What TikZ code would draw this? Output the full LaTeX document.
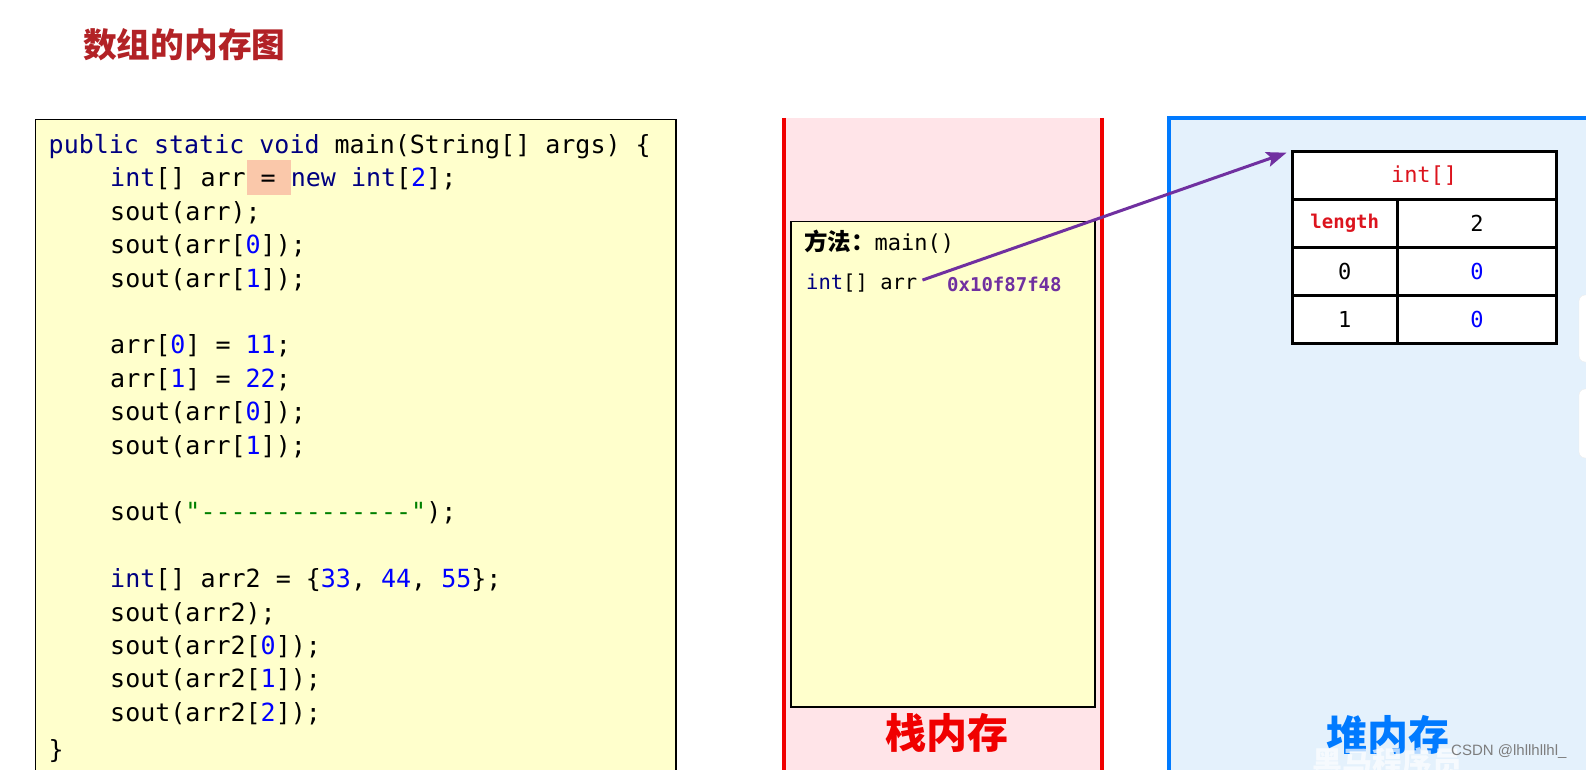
\documentclass[tikz,border=0pt]{standalone}
\usepackage{fontspec}
\setmonofont{DejaVu Sans Mono}
\newfontfamily\cjk{Noto Sans CJK SC}
\newfontfamily\csdnfont{Liberation Sans}
\usetikzlibrary{arrows.meta,calc}
\definecolor{titlered}{RGB}{178,34,38}
\definecolor{kwnavy}{RGB}{0,0,128}
\definecolor{numblue}{RGB}{0,0,255}
\definecolor{strgreen}{RGB}{0,128,0}
\definecolor{codebg}{RGB}{255,255,204}
\definecolor{hlcol}{RGB}{250,200,170}
\definecolor{stackpink}{RGB}{255,228,232}
\definecolor{stackred}{RGB}{240,0,0}
\definecolor{ptrpurple}{RGB}{112,48,160}
\definecolor{heapblue}{RGB}{0,122,255}
\definecolor{heapbg}{RGB}{228,241,252}
\definecolor{cellred}{RGB}{220,20,30}
\definecolor{csdngray}{RGB}{125,125,125}
\newcommand{\ckw}[1]{\textcolor{kwnavy}{#1}}
\newcommand{\cnum}[1]{\textcolor{numblue}{#1}}
\newcommand{\cstrg}[1]{\textcolor{strgreen}{#1}}
\newcommand{\mydashes}{-{}-{}-{}-{}-{}-{}-{}-{}-{}-{}-{}-{}-{}-}
\tikzset{
  codeline/.style={anchor=base west, inner sep=0pt, font=\ttfamily\fontsize{25}{25}\selectfont},
  codebox/.style={draw=black, line width=1.8pt, fill=codebg},
  methodbox/.style={draw=black, line width=1.5pt, fill=codebg, anchor=north west, inner sep=0pt},
  cell/.style={draw=black, line width=3pt, fill=white, anchor=north west, inner sep=0pt,
    font=\ttfamily\fontsize{22}{22}\selectfont},
  ptr/.style={draw=ptrpurple, line width=3pt, -{Stealth[length=20pt,width=15pt,inset=4pt]}},
  memlabel/.style={inner sep=0pt, font=\cjk\bfseries\fontsize{41}{41}\selectfont},
}
\begin{document}
\begin{tikzpicture}[x=1pt,y=-1pt]
\useasboundingbox (0,0) rectangle (1586,770);
\clip (0,0) rectangle (1586,770);
\fill[white] (0,0) rectangle (1586,770);

% title
\node[anchor=west, inner sep=0pt, text=titlered, font=\cjk\bfseries\fontsize{33.7}{34}\selectfont] (title) at (83,45) {数组的内存图};

% code panel
\draw[codebox] (35.5,119.5) rectangle (676,800);
\fill[hlcol] (247,160) rectangle (291,195);
\node[codeline] (c0) at (48.5,153.5) {\ckw{public static void} main(String[] args) \{};
\node[codeline] (c1) at (110,186.9) {\ckw{int}[] arr = \ckw{new} \ckw{int}[\cnum{2}];};
\node[codeline] (c2) at (110,220.3) {sout(arr);};
\node[codeline] (c3) at (110,253.7) {sout(arr[\cnum{0}]);};
\node[codeline] (c4) at (110,287.1) {sout(arr[\cnum{1}]);};
\node[codeline] (c6) at (110,353.9) {arr[\cnum{0}] = \cnum{11};};
\node[codeline] (c7) at (110,387.3) {arr[\cnum{1}] = \cnum{22};};
\node[codeline] (c8) at (110,420.7) {sout(arr[\cnum{0}]);};
\node[codeline] (c9) at (110,454.1) {sout(arr[\cnum{1}]);};
\node[codeline] (c11) at (110,520.9) {sout(\cstrg{"\mydashes"});};
\node[codeline] (c13) at (110,587.7) {\ckw{int}[] arr2 = \{\cnum{33}, \cnum{44}, \cnum{55}\};};
\node[codeline] (c14) at (110,621.1) {sout(arr2);};
\node[codeline] (c15) at (110,654.5) {sout(arr2[\cnum{0}]);};
\node[codeline] (c16) at (110,687.9) {sout(arr2[\cnum{1}]);};
\node[codeline] (c17) at (110,721.3) {sout(arr2[\cnum{2}]);};
\node[codeline] (c18) at (48.5,758) {\}};

% stack memory
\fill[stackpink] (784,118) rectangle (1101.5,780);
\draw[stackred, line width=4pt] (784,118) -- (784,780);
\draw[stackred, line width=4pt] (1101.5,118) -- (1101.5,780);
\node[methodbox, minimum width=304pt, minimum height=485.5pt] (method) at (790,220.5) {};
\node[anchor=base west, inner sep=0pt] (mlabel) at (804,250)
  {{\cjk\bfseries\fontsize{23.5}{23.5}\selectfont 方法：}{\ttfamily\fontsize{22}{22}\selectfont main()}};
\node[anchor=base west, inner sep=0pt, font=\ttfamily\fontsize{20.5}{20.5}\selectfont] (arrvar) at (806,289.5)
  {\ckw{int}[] arr};
\node[anchor=base west, inner sep=0pt, text=ptrpurple, font=\ttfamily\bfseries\fontsize{19}{19}\selectfont] (addr) at (947,291)
  {0x10f87f48};
\node[memlabel, text=stackred] (stacklbl) at (947,733) {栈内存};

% heap memory
\draw[heapblue, line width=4pt, fill=heapbg] (1169,118.5) rectangle (1620,800);
\node[cell, minimum width=264.2pt, minimum height=48.6pt, text=cellred] (hdr) at (1290.5,149.7) {int[]};
\node[cell, minimum width=105.5pt, minimum height=47.5pt, text=cellred, font=\ttfamily\bfseries\fontsize{19}{19}\selectfont] (lenk) at (1290.5,198.3) {length};
\node[cell, minimum width=158.7pt, minimum height=47.5pt] (lenv) at (1396,198.3) {2};
\node[cell, minimum width=105.5pt, minimum height=48.5pt] (i0k) at (1290.5,245.8) {0};
\node[cell, minimum width=158.7pt, minimum height=48.5pt, text=numblue] (i0v) at (1396,245.8) {0};
\node[cell, minimum width=105.5pt, minimum height=47.6pt] (i1k) at (1290.5,294.3) {1};
\node[cell, minimum width=158.7pt, minimum height=47.6pt, text=numblue] (i1v) at (1396,294.3) {0};
\node[memlabel, text=heapblue] (heaplbl) at (1388,735) {堆内存};

% pointer
\draw[ptr] ($(arrvar.east)+(5,-3)$) -- ($(hdr.north west)+(-4,3)$);

% side widgets
\draw[fill=white, draw=gray!15, rounded corners=6pt] (1579,295) rectangle (1610,362);
\draw[fill=white, draw=gray!15, rounded corners=6pt] (1579,389) rectangle (1610,458);

% watermark
\node[anchor=west, inner sep=0pt, text=white, opacity=0.7, font=\cjk\bfseries\fontsize{30}{30}\selectfont] (wm) at (1312,762) {黑马程序员};
\node[anchor=west, inner sep=0pt, text=csdngray, font=\csdnfont\fontsize{15}{15}\selectfont] (csdn) at (1451,752) {CSDN @lhllhllhl\_};
\end{tikzpicture}
\end{document}
